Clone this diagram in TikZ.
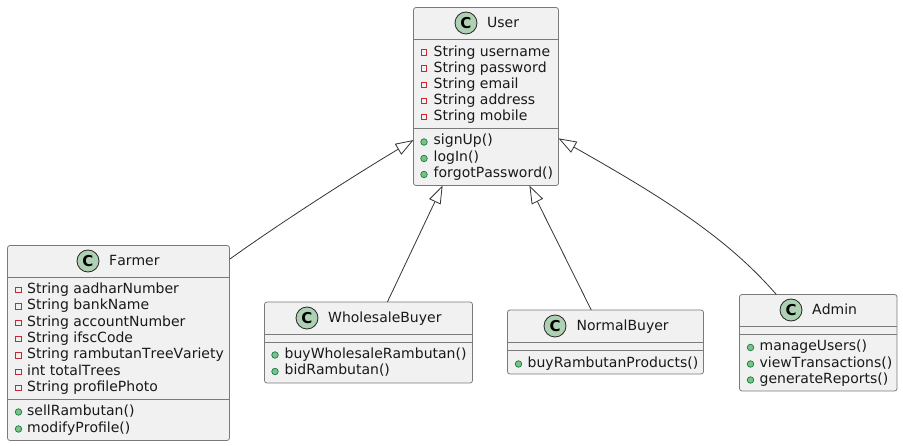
\documentclass[tikz,border=0pt]{standalone}
\usepackage{fontspec}
\setmainfont[Kerning=Off]{DejaVu Sans}
\usetikzlibrary{arrows.meta}
\definecolor{boxfill}{HTML}{F1F1F1}
\definecolor{boxline}{HTML}{7A7A7A}
\definecolor{linkline}{HTML}{333333}
\definecolor{spotfill}{HTML}{ADD1B2}
\definecolor{privred}{HTML}{C82930}
\definecolor{pubgreen}{HTML}{84BE84}
\definecolor{publine}{HTML}{038048}
\tikzset{
    classbox/.style={draw=boxline,fill=boxfill,line width=0.8pt,rounded corners=2.5pt,inner sep=0pt,outer sep=0pt},
    spot/.style={circle,draw=black!85,fill=spotfill,line width=0.8pt,minimum size=22pt,inner sep=0pt,font=\fontsize{15}{15}\selectfont\bfseries},
    label/.style={anchor=base west,inner sep=0pt,font=\fontsize{14}{16}\selectfont,text=black!90},
    privmark/.style={rectangle,draw=privred,line width=0.8pt,minimum size=5.5pt,inner sep=0pt},
    pubmark/.style={circle,draw=publine,fill=pubgreen,line width=0.7pt,minimum size=6.5pt,inner sep=0pt},
    extends/.style={draw=linkline,line width=0.8pt,-{Triangle[open,fill=white,length=18pt,width=12.5pt]}},
}
\begin{document}
\begin{tikzpicture}[x=1pt,y=-1pt]
    \useasboundingbox (0,0) rectangle (903,446);

    % boxes
    \node[classbox,minimum width=145pt,minimum height=178pt] (user) at (486,96.5) {};
    \node[classbox,minimum width=222pt,minimum height=195pt] (farmer) at (118.5,343) {};
    \node[classbox,minimum width=208pt,minimum height=81pt] (wholesale) at (368.5,342.5) {};
    \node[classbox,minimum width=196pt,minimum height=64pt] (normal) at (605.5,342) {};
    \node[classbox,minimum width=157.5pt,minimum height=96.5pt] (admin) at (818.25,342.75) {};

    % compartments
    \draw[boxline,line width=0.8pt] (user.west |- 0,39.5) -- (user.east |- 0,39.5);
    \draw[boxline,line width=0.8pt] (user.west |- 0,128.5) -- (user.east |- 0,128.5);
    \draw[boxline,line width=0.8pt] (farmer.west |- 0,277.5) -- (farmer.east |- 0,277.5);
    \draw[boxline,line width=0.8pt] (farmer.west |- 0,399.5) -- (farmer.east |- 0,399.5);
    \draw[boxline,line width=0.8pt] (wholesale.west |- 0,334) -- (wholesale.east |- 0,334);
    \draw[boxline,line width=0.8pt] (wholesale.west |- 0,342.5) -- (wholesale.east |- 0,342.5);
    \draw[boxline,line width=0.8pt] (normal.west |- 0,342) -- (normal.east |- 0,342);
    \draw[boxline,line width=0.8pt] (normal.west |- 0,350.5) -- (normal.east |- 0,350.5);
    \draw[boxline,line width=0.8pt] (admin.west |- 0,326) -- (admin.east |- 0,326);
    \draw[boxline,line width=0.8pt] (admin.west |- 0,334.5) -- (admin.east |- 0,334.5);

    % class names
    \node[spot] (userspot) at (466,23) {C};
    \node[label] (username) at (487,28) {User};
    \node[spot] (farmerspot) at (88,261) {C};
    \node[label] (farmername) at (109,266) {Farmer};
    \node[spot] (wholesalespot) at (307,318) {C};
    \node[label] (wholesalename) at (328,323) {WholesaleBuyer};
    \node[spot] (normalspot) at (555,326) {C};
    \node[label] (normalname) at (576.5,331) {NormalBuyer};
    \node[spot] (adminspot) at (791,310) {C};
    \node[label] (adminname) at (812,315) {Admin};

    % fields
    \foreach \y/\txt [count=\i] in {52/String username,68/String password,84.5/String email,100.5/String address,116.5/String mobile}{
        \node[privmark] (userpriv\i) at (424,\y+0.5) {};
        \node[label] (userfield\i) at (433.5,\y+4.5) {\txt};
    }
    \foreach \y/\txt [count=\i] in {289/String aadharNumber,305.5/String bankName,322/String accountNumber,338/String ifscCode,354.5/String rambutanTreeVariety,371/int totalTrees,387/String profilePhoto}{
        \node[privmark] (farmerpriv\i) at (18.5,\y+1) {};
        \node[label] (farmerfield\i) at (27,\y+4.5) {\txt};
    }

    % methods
    \foreach \y/\txt [count=\i] in {140.5/signUp(),157/logIn(),173/forgotPassword()}{
        \node[pubmark] (userpub\i) at (424,\y+1.5) {};
        \node[label] (usermethod\i) at (433.5,\y+4.5) {\txt};
    }
    \foreach \y/\txt [count=\i] in {411/sellRambutan(),428/modifyProfile()}{
        \node[pubmark] (farmerpub\i) at (18.5,\y+1) {};
        \node[label] (farmermethod\i) at (27,\y+4.5) {\txt};
    }
    \foreach \y/\txt [count=\i] in {354/buyWholesaleRambutan(),370.5/bidRambutan()}{
        \node[pubmark] (wholesalepub\i) at (275,\y+1) {};
        \node[label] (wholesalemethod\i) at (284.5,\y+4.5) {\txt};
    }
    \node[pubmark] (normalpub1) at (518.5,364) {};
    \node[label] (normalmethod1) at (527.5,367.5) {buyRambutanProducts()};
    \foreach \y/\txt [count=\i] in {346.5/manageUsers(),363/viewTransactions(),379/generateReports()}{
        \node[pubmark] (adminpub\i) at (750.5,\y+1) {};
        \node[label] (adminmethod\i) at (759.5,\y+4.5) {\txt};
    }

    % inheritance
    \draw[extends] (farmer.37.8) .. controls (270,230) and (345,181) .. (user.211.25);
    \draw[extends] (wholesale.65.2) -- (user.244.2);
    \draw[extends] (normal.114.4) -- (user.296.3);
    \draw[extends] (admin.131.9) .. controls (725,235) and (655,193) .. (user.330.8);
\end{tikzpicture}
\end{document}
